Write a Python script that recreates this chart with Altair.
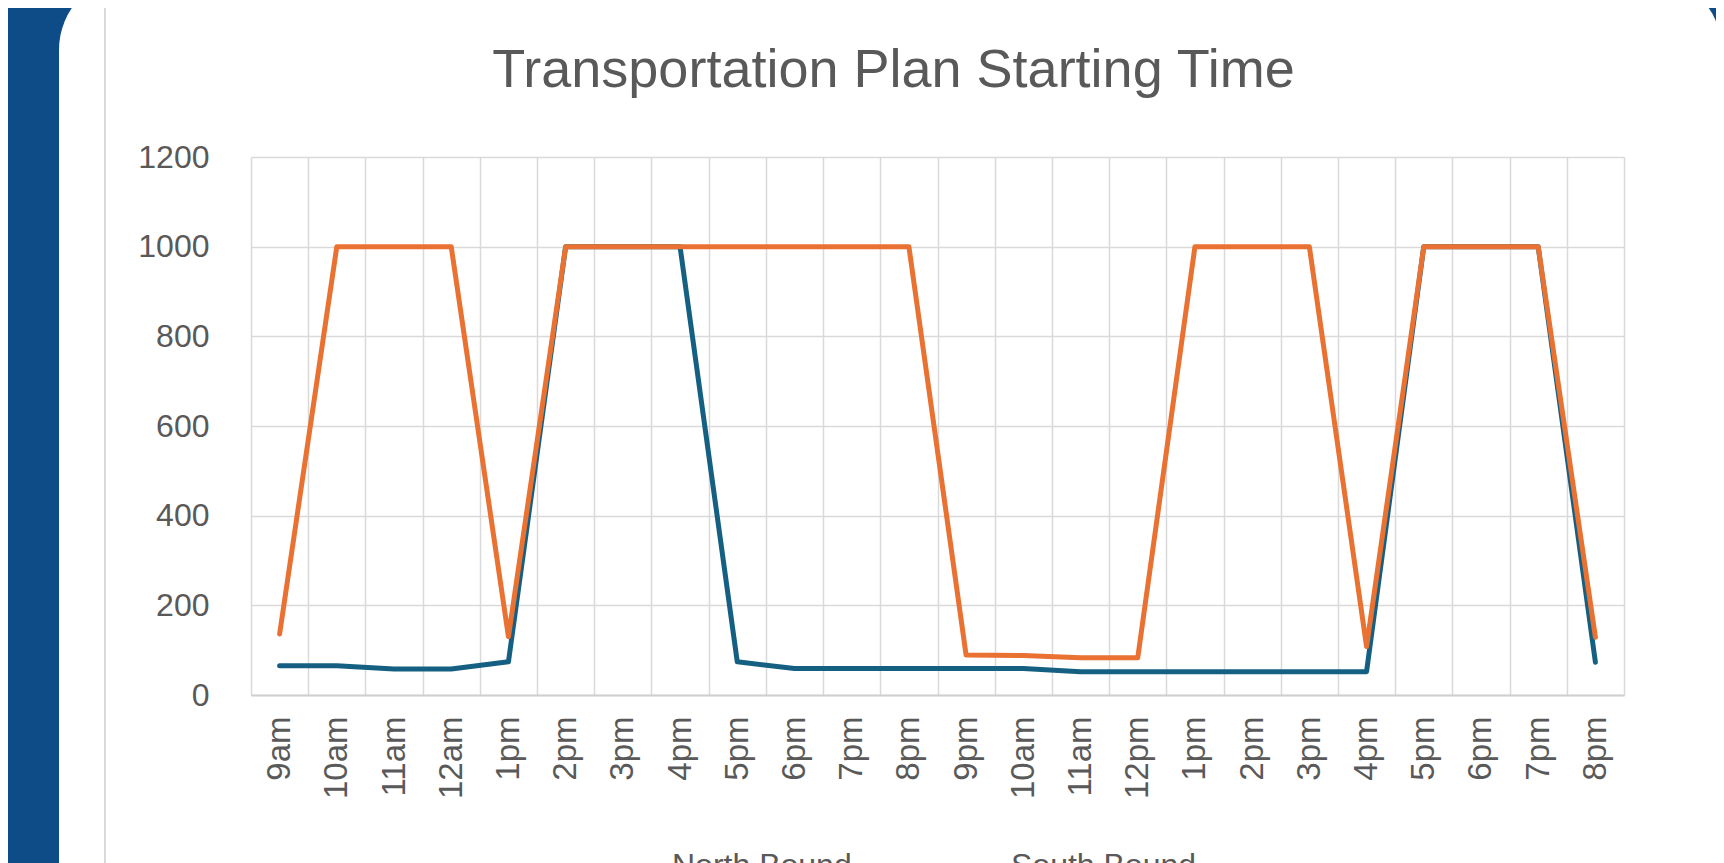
import altair as alt
import pandas as pd

times = ["9am", "10am", "11am", "12am", "1pm", "2pm", "3pm", "4pm", "5pm", "6pm", "7pm", "8pm",
         "9pm", "10am", "11am", "12pm", "1pm", "2pm", "3pm", "4pm", "5pm", "6pm", "7pm", "8pm"]
north = [65, 65, 58, 58, 74, 1000, 1000, 1000, 74, 59, 59, 59,
         59, 59, 52, 52, 52, 52, 52, 52, 1000, 1000, 1000, 73]
south = [136, 1000, 1000, 1000, 130, 1000, 1000, 1000, 1000, 1000, 1000, 1000,
         89, 88, 83, 83, 1000, 1000, 1000, 108, 1000, 1000, 1000, 129]
series_names = ["North Bound", "South Bound"]
series_colors = ["#156082", "#E97132"]
y_ticks = [0, 200, 400, 600, 800, 1000, 1200]

rows = []
for i, t in enumerate(times):
    rows.append({"idx": i, "time": t, "value": north[i], "series": series_names[0]})
for i, t in enumerate(times):
    rows.append({"idx": i, "time": t, "value": south[i], "series": series_names[1]})
df = pd.DataFrame(rows)

label_expr = "[" + ",".join("'" + t + "'" for t in times) + "][datum.value]"

FONT = "Liberation Sans"
GRAY_TEXT = "#595959"
GRID = "#d9d9d9"
PAGE_BLUE = "#0E4C88"

lines = alt.Chart(df).mark_line(strokeWidth=5, strokeJoin="round", strokeCap="round").encode(
    x=alt.X("idx:O",
            scale=alt.Scale(type="band", paddingInner=0, paddingOuter=0),
            axis=alt.Axis(title=None, labelExpr=label_expr, labelAngle=-90,
                          tickBand="extent", grid=True, gridColor=GRID, gridWidth=1.5,
                          ticks=False, tickSize=0, domain=True, domainColor="#cfcfcf",
                          domainWidth=2, labelPadding=21, labelFontSize=33,
                          labelColor=GRAY_TEXT, labelFont=FONT, labelOverlap=False,
                          labelBound=False)),
    y=alt.Y("value:Q",
            scale=alt.Scale(domain=[0, 1200], nice=False, zero=True),
            axis=alt.Axis(title=None, values=y_ticks, format="d", grid=True, gridColor=GRID,
                          gridWidth=1.5, ticks=False, tickSize=0, domain=False,
                          labelPadding=42, labelFontSize=32, labelColor=GRAY_TEXT,
                          labelFont=FONT)),
    color=alt.Color("series:N",
                    scale=alt.Scale(domain=series_names, range=series_colors),
                    legend=alt.Legend(title=None, orient="none", direction="horizontal",
                                      legendX=369, legendY=687, labelFontSize=32,
                                      labelFont=FONT, labelColor=GRAY_TEXT, labelLimit=0,
                                      symbolType="stroke", symbolStrokeWidth=4,
                                      symbolSize=1600, labelOffset=8, columnPadding=101)),
    order=alt.Order("idx:Q"),
)

one = pd.DataFrame({"k": [0]})

# decorative page elements (blue page frame and rounded card corners)
blue_strip = alt.Chart(one).mark_rect(color=PAGE_BLUE).encode(
    x=alt.value(-243), x2=alt.value(-192), y=alt.value(-149), y2=alt.value(740))
blue_corner = alt.Chart(one).mark_rect(color=PAGE_BLUE).encode(
    x=alt.value(-200), x2=alt.value(-116), y=alt.value(-149), y2=alt.value(-107))
card_corner = alt.Chart(one).mark_point(filled=True, color="white", opacity=1, size=22500,
                                         shape="circle", strokeWidth=0).encode(
    x=alt.value(-117), y=alt.value(-107))
blue_corner_r = alt.Chart(one).mark_rect(color=PAGE_BLUE).encode(
    x=alt.value(1399), x2=alt.value(1465), y=alt.value(-149), y2=alt.value(-114))
card_corner_r = alt.Chart(one).mark_point(filled=True, color="white", opacity=1, size=14400,
                                           shape="circle", strokeWidth=0).encode(
    x=alt.value(1409), y=alt.value(-114))
left_line = alt.Chart(one).mark_rule(color=GRID, strokeWidth=2).encode(
    x=alt.value(-146), y=alt.value(-149), y2=alt.value(740))

chart = alt.layer(blue_strip, blue_corner, card_corner, blue_corner_r, card_corner_r,
                  left_line, lines).properties(
    width=1373, height=538,
    autosize=alt.AutoSizeParams(type="none"),
    padding={"left": 243, "top": 149, "right": 92, "bottom": 190},
    background="white",
    title=alt.TitleParams("Transportation Plan Starting Time", fontSize=54, font=FONT,
                          fontWeight="normal", color=GRAY_TEXT, anchor="middle",
                          frame="group", dx=-44, dy=166, baseline="alphabetic", offset=0),
).configure_view(stroke=None)

chart.save("out.html", embed_options={"renderer": "svg", "actions": False})
